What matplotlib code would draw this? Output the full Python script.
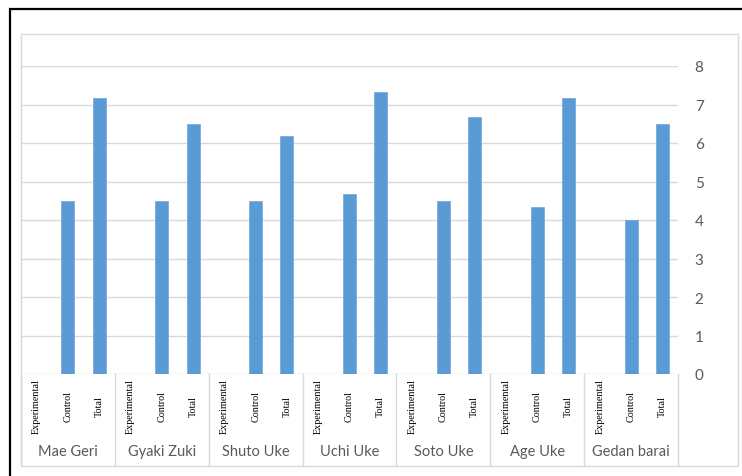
import matplotlib.pyplot as plt
import numpy as np
from matplotlib.patches import Rectangle
from matplotlib.lines import Line2D

# data
groups = ["Mae Geri", "Gyaki Zuki", "Shuto Uke", "Uchi Uke", "Soto Uke", "Age Uke", "Gedan barai"]
subgroups = ["Experimental", "Control", "Total"]
experimental = [0, 0, 0, 0, 0, 0, 0]
control = [4.5, 4.5, 4.5, 4.67, 4.5, 4.33, 4.0]
total = [7.17, 6.5, 6.17, 7.33, 6.67, 7.17, 6.5]
y_ticks = [0, 1, 2, 3, 4, 5, 6, 7, 8]

W, H = 742, 477
BAR = "#5B9BD5"
GRID = "#D9D9D9"
TXT = "#595959"


def fx(px):
    return px / W


def fy(py):
    return 1 - py / H


fig = plt.figure(figsize=(W / 100, H / 100), dpi=100)

# outer black frame (cut off at right/bottom) and the grey chart box
fig.add_artist(Rectangle((fx(9.5), fy(500)), fx(760), fy(10) - fy(500), transform=fig.transFigure,
                         fill=False, edgecolor="black", linewidth=1.6))
fig.add_artist(Rectangle((fx(21), fy(467)), fx(738) - fx(21), fy(35) - fy(467), transform=fig.transFigure,
                         fill=False, edgecolor=GRID, linewidth=1.0))

ax_left, ax_right, ax_top, ax_bottom = 21, 678, 67, 375
ax = fig.add_axes([fx(ax_left), fy(ax_bottom), fx(ax_right - ax_left), fy(ax_top) - fy(ax_bottom)])

n_sub = len(subgroups)
series = [experimental, control, total]
for k, vals in enumerate(series):
    xs = np.arange(len(groups)) * n_sub + k
    ax.bar(xs, vals, width=0.42, color=BAR, edgecolor="#6FA8DC", linewidth=0.5, zorder=3)

ax.set_xlim(-0.5, len(groups) * n_sub - 0.5)
ax.set_ylim(0, 8)
ax.set_yticks(y_ticks)
ax.yaxis.tick_right()
ax.tick_params(axis="y", length=0, pad=12, labelsize=11, labelcolor=TXT)
for lab in ax.get_yticklabels():
    lab.set_family(["Lato", "DejaVu Sans"])
ax.set_xticks([])
ax.grid(axis="y", color=GRID, linewidth=1.0, zorder=0)
for s in ax.spines.values():
    s.set_visible(False)

# multi-level category axis
trans = ax.get_xaxis_transform()
y_low = -(467 - 375) / (375 - 67)
for g in range(len(groups) + 1):
    x = g * n_sub - 0.5
    ax.add_line(Line2D([x, x], [0, y_low], transform=trans, color=GRID, linewidth=1.0, clip_on=False))

y_sub = -(407 - 375) / (375 - 67)
y_grp = -(452 - 375) / (375 - 67)
for g, name in enumerate(groups):
    for k, sub in enumerate(subgroups):
        ax.text(g * n_sub + k, y_sub, sub, transform=trans, rotation=90, ha="center", va="center",
                fontsize=7.3, family="Liberation Serif", color="black", clip_on=False)
    ax.text(g * n_sub + 1, y_grp, name, transform=trans, ha="center", va="center",
            fontsize=10.5, family=["Lato", "DejaVu Sans"], color=TXT, clip_on=False)

fig.savefig("out.png", dpi=100)
